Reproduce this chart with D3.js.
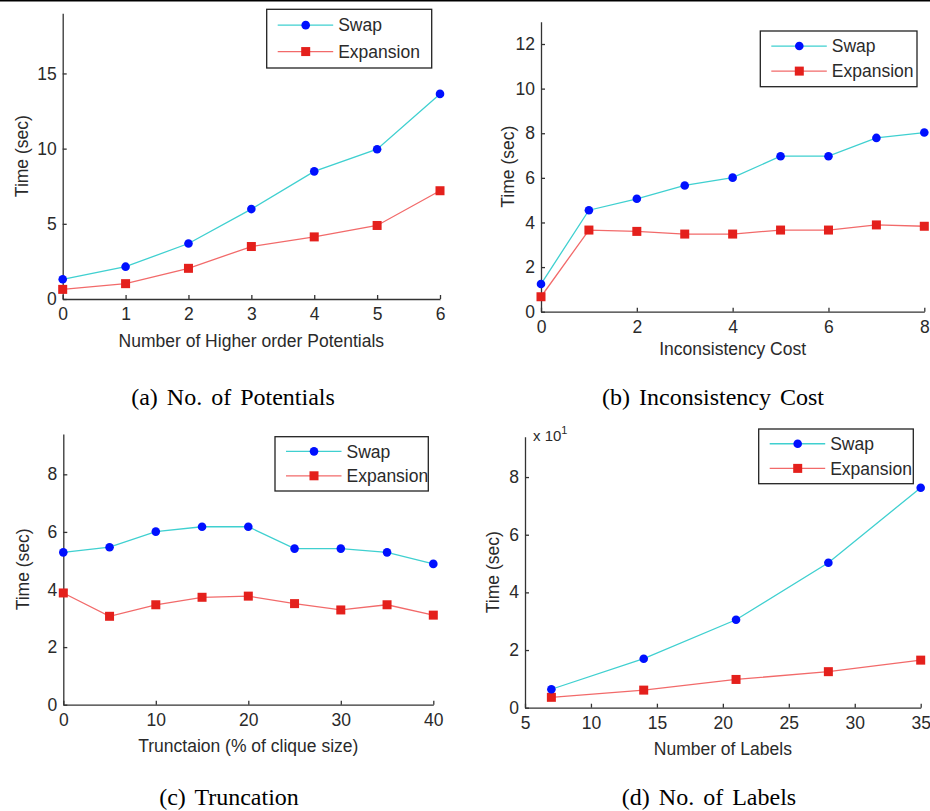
<!DOCTYPE html>
<html>
<head>
<meta charset="utf-8">
<script src="https://cdn.jsdelivr.net/npm/d3@7"></script>
<style>
  html, body { margin: 0; padding: 0; background: #fff; }
  svg { display: block; }
  .tick text, .lbl { font-family: "Liberation Sans", Arial, sans-serif; fill: #2a2a2a; }
  .cap { font-family: "Liberation Serif", "Times New Roman", serif; fill: #000; word-spacing: 3px; }
</style>
</head>
<body>
<div id="chart"></div>
<script>
// (a) No. of Potentials
const potX = [0, 1, 2, 3, 4, 5, 6];
const potSwap = [1.31, 2.15, 3.69, 5.98, 8.49, 9.96, 13.64];
const potExp = [0.64, 1.02, 2.04, 3.49, 4.13, 4.89, 7.2];

// (b) Inconsistency Cost
const costX = [0, 1, 2, 3, 4, 5, 6, 7, 8];
const costSwap = [1.24, 4.55, 5.06, 5.66, 6.01, 6.97, 6.97, 7.79, 8.03];
const costExp = [0.67, 3.66, 3.6, 3.48, 3.48, 3.66, 3.66, 3.89, 3.83];

// (c) Truncation
const truncX = [0, 5, 10, 15, 20, 25, 30, 35, 40];
const truncSwap = [5.29, 5.47, 6.01, 6.18, 6.18, 5.42, 5.42, 5.29, 4.89];
const truncExp = [3.88, 3.07, 3.47, 3.73, 3.77, 3.51, 3.29, 3.47, 3.11];

// (d) No. of Labels (seconds; axis shows x 10^1)
const labX = [7, 14, 21, 28, 35];
const labSwap = [6.4, 17.0, 30.5, 50.3, 76.3];
const labExp = [3.6, 6.1, 9.8, 12.5, 16.5];

const seriesNames = ["Swap", "Expansion"];
const captions = ["(a) No. of Potentials", "(b) Inconsistency Cost", "(c) Truncation", "(d) No. of Labels"];
const xLabels = ["Number of Higher order Potentials", "Inconsistency Cost", "Trunctaion (% of clique size)", "Number of Labels"];

const W = 930, H = 811;
const svg = d3.select("#chart").append("svg").attr("width", W).attr("height", H);

svg.append("line").attr("x1", 0).attr("x2", W).attr("y1", 0.75).attr("y2", 0.75)
  .attr("stroke", "#000").attr("stroke-width", 1.5);

const panels = [
  { x: potX, swap: potSwap, exp: potExp, xd: [0, 6], xt: d3.range(0, 7, 1), yd: [0, 19], yt: [0, 5, 10, 15], fmt: d => d,
    box: [62.7, 440, 13.3, 299], leg: [266.7, 9.3, 165, 58.7], ylx: 28, xly: 347, capX: 233, capY: 405 },
  { x: costX, swap: costSwap, exp: costExp, xd: [0, 8], xt: [0, 2, 4, 6, 8], yd: [0, 13], yt: [0, 2, 4, 6, 8, 10, 12], fmt: d => d,
    box: [541, 924.3, 21.7, 311.7], leg: [760.3, 31, 156.7, 55.7], ylx: 514, xly: 355, capX: 713, capY: 405 },
  { x: truncX, swap: truncSwap, exp: truncExp, xd: [0, 40], xt: [0, 10, 20, 30, 40], yd: [0, 9.4], yt: [0, 2, 4, 6, 8], fmt: d => d,
    box: [63.3, 433.3, 434, 704.7], leg: [275, 436.7, 153.3, 54.3], ylx: 29, xly: 752, capX: 229, capY: 805 },
  { x: labX, swap: labSwap, exp: labExp, xd: [5, 35], xt: [5, 10, 15, 20, 25, 30, 35], yd: [0, 94], yt: [0, 20, 40, 60, 80], fmt: d => d / 10,
    box: [525, 920.7, 436.7, 707.7], leg: [758.7, 429, 154.6, 54.7], ylx: 499, xly: 755, capX: 709, capY: 805, expo: true }
];

const swapLine = "#3fd0d0", swapMark = "#0010ff";
const expLine = "#f26a6a", expMark = "#e4201c";
const axisCol = "#333";

panels.forEach((p, i) => {
  const [l, r, t, b] = p.box;
  const x = d3.scaleLinear().domain(p.xd).range([l, r]);
  const y = d3.scaleLinear().domain(p.yd).range([b, t]);
  const g = svg.append("g");

  const ax = g.append("g").attr("transform", "translate(0," + b + ")")
    .call(d3.axisBottom(x).tickValues(p.xt).tickFormat(d => d).tickSizeInner(-4).tickSizeOuter(0).tickPadding(9));
  const ay = g.append("g").attr("transform", "translate(" + l + ",0)")
    .call(d3.axisLeft(y).tickValues(p.yt).tickFormat(p.fmt).tickSizeInner(-4).tickSizeOuter(0).tickPadding(6));
  [ax, ay].forEach(a => {
    a.selectAll(".domain, .tick line").attr("stroke", axisCol).attr("stroke-width", 1.3);
    a.selectAll(".tick text").style("font-size", "17.5px");
  });

  const line = d3.line().x(d => x(d[0])).y(d => y(d[1]));
  const swapPts = p.x.map((v, k) => [v, p.swap[k]]);
  const expPts = p.x.map((v, k) => [v, p.exp[k]]);

  g.append("path").datum(expPts).attr("fill", "none").attr("stroke", expLine).attr("stroke-width", 1.3).attr("d", line);
  g.append("path").datum(swapPts).attr("fill", "none").attr("stroke", swapLine).attr("stroke-width", 1.3).attr("d", line);

  g.selectAll(".sq").data(expPts).join("rect")
    .attr("x", d => x(d[0]) - 4.5).attr("y", d => y(d[1]) - 4.5)
    .attr("width", 9).attr("height", 9).attr("fill", expMark);
  g.selectAll(".ci").data(swapPts).join("circle")
    .attr("cx", d => x(d[0])).attr("cy", d => y(d[1])).attr("r", 4.3).attr("fill", swapMark);

  // axis labels
  g.append("text").attr("class", "lbl").attr("x", (l + r) / 2).attr("y", p.xly)
    .attr("text-anchor", "middle").style("font-size", "17.5px").text(xLabels[i]);
  g.append("text").attr("class", "lbl")
    .attr("transform", "translate(" + p.ylx + "," + (t + b) / 2 + ") rotate(-90)")
    .attr("text-anchor", "middle").style("font-size", "17.5px").text("Time (sec)");

  if (p.expo) {
    const e = g.append("text").attr("class", "lbl").attr("x", l + 8).attr("y", t + 4).style("font-size", "15px");
    e.append("tspan").text("x 10");
    e.append("tspan").attr("dy", -7).style("font-size", "11px").text("1");
  }

  // legend
  const [lx, ly, lw, lh] = p.leg;
  const lg = g.append("g").attr("transform", "translate(" + lx + "," + ly + ")");
  lg.append("rect").attr("width", lw).attr("height", lh).attr("fill", "#fff").attr("stroke", "#222").attr("stroke-width", 1.3);
  seriesNames.forEach((name, k) => {
    const yy = lh * (k === 0 ? 0.27 : 0.72);
    lg.append("line").attr("x1", 11).attr("x2", 66.5).attr("y1", yy).attr("y2", yy)
      .attr("stroke", k === 0 ? swapLine : expLine).attr("stroke-width", 1.3);
    if (k === 0) lg.append("circle").attr("cx", 39).attr("cy", yy).attr("r", 4.3).attr("fill", swapMark);
    else lg.append("rect").attr("x", 34.5).attr("y", yy - 4.5).attr("width", 9).attr("height", 9).attr("fill", expMark);
    lg.append("text").attr("class", "lbl").attr("x", 71.5).attr("y", yy + 6.3).style("font-size", "17.5px").text(name);
  });

  svg.append("text").attr("class", "cap").attr("x", p.capX).attr("y", p.capY)
    .attr("text-anchor", "middle").style("font-size", "24px").text(captions[i]);
});
</script>
</body>
</html>
